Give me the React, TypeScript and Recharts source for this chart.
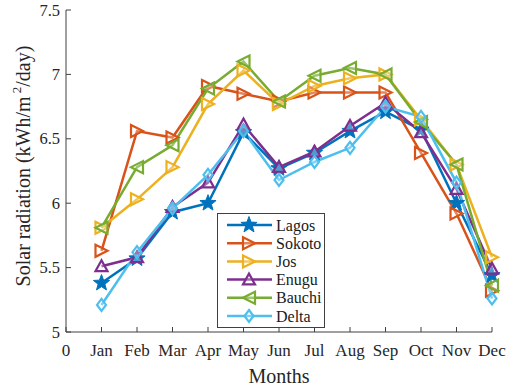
import React from 'react'
import { LineChart, Line, XAxis, YAxis, Legend } from 'recharts'

const months = ['Jan', 'Feb', 'Mar', 'Apr', 'May', 'Jun', 'Jul', 'Aug', 'Sep', 'Oct', 'Nov', 'Dec']
const monthNo = [1, 2, 3, 4, 5, 6, 7, 8, 9, 10, 11, 12]
const xTicks = [0, 1, 2, 3, 4, 5, 6, 7, 8, 9, 10, 11, 12]
const yTicks = [5, 5.5, 6, 6.5, 7, 7.5]

const lagos = [5.38, 5.57, 5.93, 6.0, 6.55, 6.27, 6.39, 6.56, 6.71, 6.57, 6.0, 5.44]
const sokoto = [5.63, 6.56, 6.51, 6.91, 6.85, 6.79, 6.86, 6.86, 6.86, 6.39, 5.92, 5.32]
const jos = [5.81, 6.03, 6.28, 6.77, 7.03, 6.77, 6.91, 6.97, 7.0, 6.65, 6.3, 5.58]
const enugu = [5.51, 5.58, 5.97, 6.16, 6.61, 6.28, 6.4, 6.6, 6.78, 6.55, 6.11, 5.49]
const bauchi = [5.81, 6.28, 6.45, 6.89, 7.1, 6.79, 6.99, 7.05, 7.0, 6.63, 6.3, 5.36]
const delta = [5.21, 5.62, 5.96, 6.22, 6.56, 6.18, 6.32, 6.43, 6.75, 6.67, 6.16, 5.26]

const data = monthNo.map((m, i) => ({
  m,
  Lagos: lagos[i],
  Sokoto: sokoto[i],
  Jos: jos[i],
  Enugu: enugu[i],
  Bauchi: bauchi[i],
  Delta: delta[i],
}))

type Shape = 'star' | 'right' | 'up' | 'left' | 'diamond'

const series: { key: string; color: string; shape: Shape }[] = [
  { key: 'Lagos', color: '#0072BD', shape: 'star' },
  { key: 'Sokoto', color: '#D95319', shape: 'right' },
  { key: 'Jos', color: '#EDB120', shape: 'right' },
  { key: 'Enugu', color: '#7E2F8E', shape: 'up' },
  { key: 'Bauchi', color: '#77AC30', shape: 'left' },
  { key: 'Delta', color: '#4DBEEE', shape: 'diamond' },
]

const axisColor = '#404040'
const textColor = '#262626'
const serif = 'Liberation Serif'

const starPath = (cx: number, cy: number, r: number) => {
  const pts: string[] = []
  for (let i = 0; i < 10; i++) {
    const rr = i % 2 === 0 ? r : r * 0.42
    const a = -Math.PI / 2 + (i * Math.PI) / 5
    pts.push(`${cx + rr * Math.cos(a)},${cy + rr * Math.sin(a)}`)
  }
  return 'M' + pts.join('L') + 'Z'
}

const Marker = ({ cx, cy, shape, color }: { cx: number; cy: number; shape: Shape; color: string }) => {
  const s = 6
  if (shape === 'star') {
    return <path d={starPath(cx, cy, 8.5)} fill={color} stroke={color} strokeWidth={1} />
  }
  let d = ''
  if (shape === 'right') d = `M${cx - s},${cy - s}L${cx + s},${cy}L${cx - s},${cy + s}Z`
  if (shape === 'left') d = `M${cx + s},${cy - s}L${cx - s},${cy}L${cx + s},${cy + s}Z`
  if (shape === 'up') d = `M${cx},${cy - s}L${cx + s},${cy + s * 0.8}L${cx - s},${cy + s * 0.8}Z`
  if (shape === 'diamond') d = `M${cx},${cy - s}L${cx + s * 0.75},${cy}L${cx},${cy + s}L${cx - s * 0.75},${cy}Z`
  return <path d={d} fill="white" fillOpacity={0.3} stroke={color} strokeWidth={2.2} strokeLinejoin="miter" />
}

const makeDot = (shape: Shape, color: string) => (p: any) => (
  <Marker key={`${shape}-${color}-${p.index}`} cx={p.cx} cy={p.cy} shape={shape} color={color} />
)

// month ticks sit below the inward tick marks
const XTick = (p: any) => {
  const v = p.payload.value
  return (
    <text x={p.x} y={350} textAnchor="middle" dominantBaseline="central" fontFamily={serif} fontSize={17} fill={textColor}>
      {v === 0 ? '0' : months[v - 1]}
    </text>
  )
}

const YTick = (p: any) => (
  <text x={60} y={p.y} textAnchor="end" dominantBaseline="central" fontFamily={serif} fontSize={16.5} fill={textColor}>
    {String(p.payload.value)}
  </text>
)

const LegendBox = () => (
  <svg width={108} height={115} style={{ display: 'block' }}>
    <rect x={0.5} y={0.5} width={107} height={114} fill="white" stroke={axisColor} strokeWidth={1} />
    {series.map((s, i) => {
      const y = 12 + i * 18.2
      return (
        <g key={s.key}>
          <line x1={10} x2={55} y1={y} y2={y} stroke={s.color} strokeWidth={2.5} />
          <Marker cx={32} cy={y} shape={s.shape} color={s.color} />
          <text x={59} y={y} dominantBaseline="central" fontFamily={serif} fontSize={16} fill="#1a1a1a">
            {s.key}
          </text>
        </g>
      )
    })}
  </svg>
)

const YLabel = () => (
  <text
    x={23}
    y={166}
    transform="rotate(-90 23 166)"
    textAnchor="middle"
    dominantBaseline="central"
    fontFamily={serif}
    fontSize={20}
    fill={textColor}
  >
    Solar radiation (kWh/m
    <tspan dy={-7} fontSize={13}> 2</tspan>
    <tspan dy={7}>/day)</tspan>
  </text>
)

const XLabel = () => (
  <text x={279} y={376} textAnchor="middle" dominantBaseline="central" fontFamily={serif} fontSize={20} fill={textColor}>
    Months
  </text>
)

export default function App() {
  return (
    <div style={{ position: 'absolute', left: 0, top: 0, width: 512, height: 388, background: 'white' }}>
      <LineChart width={512} height={388} data={data} margin={{ top: 10, right: 20, left: 0, bottom: 0 }}>
        <XAxis
          dataKey="m"
          type="number"
          domain={[0, 12]}
          ticks={xTicks}
          interval={0}
          height={56}
          tickSize={-5}
          stroke={axisColor}
          tick={<XTick />}
          label={<XLabel />}
        />
        <XAxis
          xAxisId="top"
          orientation="top"
          type="number"
          domain={[0, 12]}
          ticks={xTicks}
          interval={0}
          height={0}
          tickSize={-5}
          stroke={axisColor}
          tickFormatter={() => ''}
        />
        <YAxis
          type="number"
          domain={[5, 7.5]}
          ticks={yTicks}
          interval={0}
          width={66}
          tickSize={-5}
          stroke={axisColor}
          tick={<YTick />}
          label={<YLabel />}
        />
        <YAxis
          yAxisId="right"
          orientation="right"
          type="number"
          domain={[5, 7.5]}
          ticks={yTicks}
          interval={0}
          width={0}
          tickSize={-5}
          stroke={axisColor}
          tickFormatter={() => ''}
        />
        <Legend
          layout="vertical"
          align="center"
          verticalAlign="middle"
          wrapperStyle={{ left: 217, top: 213, width: 108 }}
          content={() => <LegendBox />}
        />
        {series.map((s) => (
          <Line
            key={s.key}
            dataKey={s.key}
            stroke={s.color}
            strokeWidth={2.5}
            dot={makeDot(s.shape, s.color)}
            activeDot={false}
            isAnimationActive={false}
          />
        ))}
      </LineChart>
    </div>
  )
}
